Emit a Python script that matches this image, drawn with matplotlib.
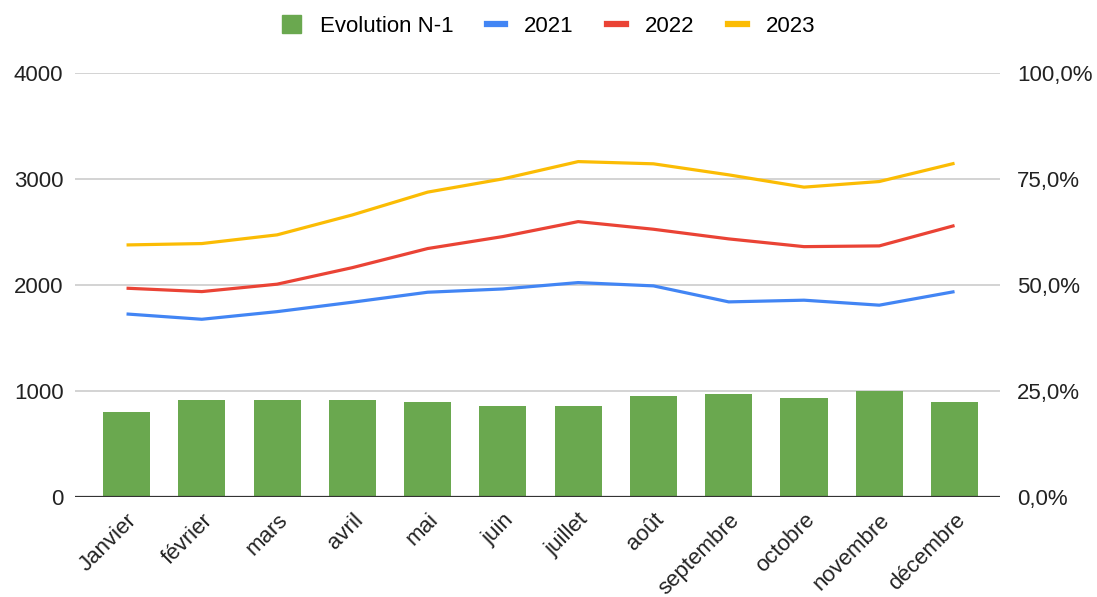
import numpy as np
import matplotlib
matplotlib.use("Agg")
import matplotlib.pyplot as plt
from matplotlib.patches import Patch
from matplotlib.lines import Line2D
from matplotlib.ticker import FuncFormatter

plt.rcParams["font.family"] = ["Liberation Sans", "DejaVu Sans"]

mois = ["Janvier", "février", "mars", "avril", "mai", "juin", "juillet",
        "août", "septembre", "octobre", "novembre", "décembre"]

# évolution N-1 en %
evolution = [20.1, 22.9, 22.9, 22.9, 22.4, 21.5, 21.5, 23.8, 24.3, 23.3, 25.1, 22.4]

serie_2021 = [1726, 1676, 1748, 1837, 1931, 1962, 2022, 1991, 1840, 1856, 1809, 1937]
serie_2022 = [1969, 1937, 2007, 2163, 2343, 2456, 2597, 2525, 2434, 2361, 2368, 2560]
serie_2023 = [2377, 2390, 2472, 2660, 2875, 3000, 3163, 3142, 3038, 2922, 2975, 3147]

VERT = "#6aa84f"
BLEU = "#4285f4"
ROUGE = "#ea4335"
JAUNE = "#fbbc04"
TAILLE = 16

fig = plt.figure(figsize=(10.97, 5.97), dpi=100)
ax = fig.add_axes([0.068, 0.1675, 0.844, 0.7105])
ax2 = ax.twinx()

x = np.arange(len(mois))

# barres sur l'axe de droite
ax2.bar(x, evolution, width=0.625, color=VERT, zorder=2)
ax2.set_ylim(0, 100)
ax2.set_yticks([0, 25, 50, 75, 100])
ax2.yaxis.set_major_formatter(FuncFormatter(lambda v, p: f"{v:.1f}%".replace(".", ",")))

# courbes sur l'axe de gauche
ax.plot(x, serie_2021, color=BLEU, lw=2.3, solid_capstyle="butt")
ax.plot(x, serie_2022, color=ROUGE, lw=2.3, solid_capstyle="butt")
ax.plot(x, serie_2023, color=JAUNE, lw=2.3, solid_capstyle="butt")
ax.set_ylim(0, 4000)
ax.set_yticks([0, 1000, 2000, 3000, 4000])
ax.set_xlim(-0.69, 11.61)

ax.set_zorder(ax2.get_zorder() + 1)
ax.patch.set_visible(False)
ax2.set_axisbelow(True)
ax2.grid(axis="y", color="#cccccc", lw=1.2, zorder=0)

for a in (ax, ax2):
    for s in a.spines.values():
        s.set_visible(False)
    a.tick_params(length=0, labelsize=TAILLE, colors="#222222")
ax.axhline(0, color="#333333", lw=1.6, zorder=3)

ax.tick_params(axis="y", pad=8)
ax2.tick_params(axis="y", pad=12)
ax.set_xticks(x)
ax.set_xticklabels(mois, rotation=45, ha="right", rotation_mode="anchor")
ax.tick_params(axis="x", pad=9)

handles = [
    Patch(facecolor=VERT, edgecolor=VERT),
    Line2D([0], [0], color=BLEU, lw=4.5),
    Line2D([0], [0], color=ROUGE, lw=4.5),
    Line2D([0], [0], color=JAUNE, lw=4.5),
]
fig.legend(handles, ["Evolution N-1", "2021", "2022", "2023"], loc="center",
           bbox_to_anchor=(0.5, 0.956), ncol=4, frameon=False, fontsize=TAILLE,
           handlelength=0.85, handleheight=0.85, columnspacing=1.5, handletextpad=0.85)

fig.savefig("out.png", dpi=100)
